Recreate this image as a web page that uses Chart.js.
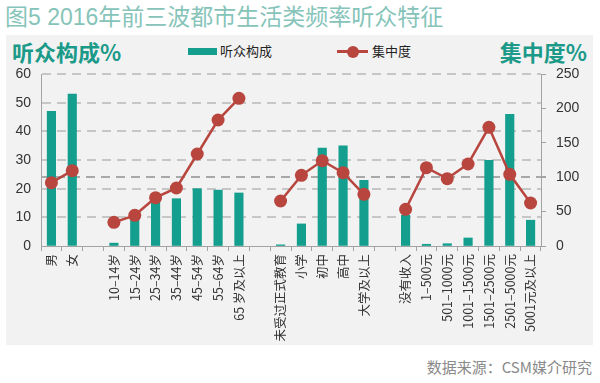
<!DOCTYPE html>
<html><head><meta charset="utf-8">
<script src="https://cdn.jsdelivr.net/npm/chart.js@4/dist/chart.umd.min.js"></script>
<style>
html,body{margin:0;padding:0;background:#fff;width:600px;height:383px;overflow:hidden;font-family:"Liberation Sans","Noto Sans CJK SC",sans-serif;}
#panel{position:absolute;left:6px;top:35px;width:587px;height:310px;background:#f2f2f2;}
#title{position:absolute;left:5px;top:2px;font-size:23px;line-height:30px;color:#86c4ba;font-family:"Liberation Sans","Noto Sans CJK SC",sans-serif;font-weight:normal;white-space:nowrap;}
.axt{position:absolute;top:37px;font-size:22px;line-height:28px;font-weight:bold;color:#1b9a89;font-family:"Noto Sans CJK SC",sans-serif;white-space:nowrap;}
#lt{left:12px;}
#rt{right:13px;}
.leg{position:absolute;top:42px;font-size:13px;line-height:18px;color:#222;font-family:"Noto Sans CJK SC",sans-serif;white-space:nowrap;}
#sw1{position:absolute;left:188px;top:48px;width:29px;height:7px;background:#149e8e;}
#lg1{left:220px;}
#ln2{position:absolute;left:337px;top:50px;width:31px;height:3px;background:#b8463f;}
#dot2{position:absolute;left:347px;top:45.5px;width:12px;height:12px;border-radius:50%;background:#b8463f;}
#lg2{left:372px;}
#src{position:absolute;right:8px;top:357px;font-size:15px;line-height:20px;color:#8a8a8a;font-family:"Noto Sans CJK SC",sans-serif;white-space:nowrap;}
canvas{position:absolute;left:0;top:0;}
</style></head>
<body>
<div id="panel"></div>
<div id="title">图5 2016年前三波都市生活类频率听众特征</div>
<div class="axt" id="lt">听众构成%</div>
<div class="axt" id="rt">集中度%</div>
<div id="sw1"></div><div class="leg" id="lg1">听众构成</div>
<div id="ln2"></div><div id="dot2"></div><div class="leg" id="lg2">集中度</div>
<div id="src">数据来源：CSM媒介研究</div>
<canvas id="c" width="600" height="383"></canvas>
<script>
const categories = ['男','女','','10–14岁','15–24岁','25–34岁','35–44岁','45–54岁','55–64岁','65 岁及以上','','未受过正式教育','小学','初中','高中','大学及以上','','没有收入','1–500元','501–1000元','1001–1500元','1501–2500元','2501–5000元','5001元及以上'];
const audienceShare = [47,53,null,1,10,16,16.5,20,19.5,18.5,null,0.4,7.7,34.2,34.9,22.9,null,10.7,0.6,0.8,2.8,29.9,45.9,9.0];
const concentration = [92,109.5,null,34.4,44.6,70.3,84.3,133.7,183.1,214.6,null,65.4,102.7,124,106.6,75.1,null,53.3,113.9,97.9,119.2,172.5,104.2,62.5];
const leftTicks = [0,10,20,30,40,50,60];
const rightTicks = [0,50,100,150,200,250];

const tickFont = {family:'"Liberation Sans","Noto Sans CJK SC",sans-serif', size:14};

const leftGrid = {
  id:'leftGrid',
  beforeDatasetsDraw(chart){
    const s = chart.scales.y, a = chart.chartArea, ctx = chart.ctx;
    ctx.save();
    ctx.strokeStyle = '#c6c6c6';
    ctx.lineWidth = 2;
    ctx.setLineDash([9,6]);
    s.ticks.forEach(t=>{
      if (t.value === 0) return;
      const y = Math.round(s.getPixelForValue(t.value));
      ctx.beginPath(); ctx.moveTo(a.left + 1, y); ctx.lineTo(a.right, y); ctx.stroke();
    });
    ctx.restore();
  }
};

new Chart(document.getElementById('c'), {
  data:{
    labels:categories,
    datasets:[
      {type:'line', label:'集中度', data:concentration, yAxisID:'y1', order:0,
       borderColor:'#b8463f', backgroundColor:'#b8463f', borderWidth:2.5,
       pointRadius:6.5, pointBackgroundColor:'#b8463f', pointBorderColor:'#b8463f', pointBorderWidth:0,
       spanGaps:false, tension:0},
      {type:'bar', label:'听众构成', data:audienceShare, yAxisID:'y', order:1,
       backgroundColor:'#149e8e', barThickness:8.5}
    ]
  },
  options:{
    responsive:false, animation:false, devicePixelRatio:1,
    layout:{padding:{top:74,left:0,right:0,bottom:0}},
    plugins:{legend:{display:false}, tooltip:{enabled:false}},
    scales:{
      x:{
        grid:{drawOnChartArea:false, drawTicks:true, tickLength:5, tickColor:'#a3a3a3', offset:true},
        border:{display:true, color:'#a3a3a3', width:1},
        ticks:{minRotation:90, maxRotation:90, autoSkip:false, padding:3, color:'#333',
               font:{family:'"Noto Sans CJK SC",sans-serif', size:12.5}},
        afterFit:s=>{s.height=137;}
      },
      y:{
        type:'linear', position:'left', min:0, max:60,
        afterBuildTicks:s=>{s.ticks=leftTicks.map(v=>({value:v}));},
        grid:{drawOnChartArea:false, drawTicks:false},
        border:{display:true, color:'#a3a3a3'},
        ticks:{color:'#333', font:tickFont, padding:10},
        afterFit:s=>{s.width=41;}
      },
      y1:{
        type:'linear', position:'right', min:0, max:250,
        afterBuildTicks:s=>{s.ticks=rightTicks.map(v=>({value:v}));},
        grid:{drawOnChartArea:true, color:c=>c.tick && c.tick.value===100?'#a8a8a8':'rgba(0,0,0,0)',
              lineWidth:c=>c.tick && c.tick.value===100?2:1, tickColor:'#a3a3a3', tickLength:5, drawTicks:true, tickBorderDash:[]},
        border:{display:true, color:'#a3a3a3', dash:[9,6]},
        ticks:{color:'#333', font:tickFont, padding:10},
        afterFit:s=>{s.width=59;}
      }
    }
  },
  plugins:[leftGrid]
});
</script>
</body></html>
